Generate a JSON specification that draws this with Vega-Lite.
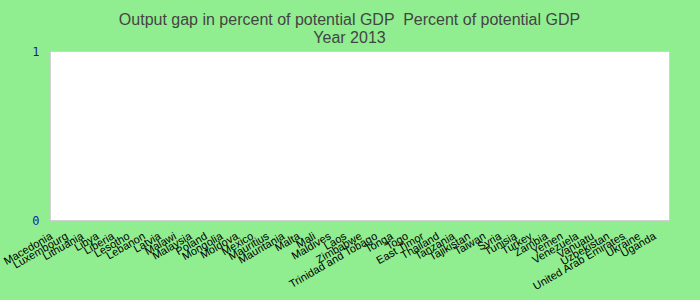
{
  "$schema": "https://vega.github.io/schema/vega-lite/v6.json",
  "autosize": "none",
  "width": 619,
  "height": 169,
  "padding": {"left": 50, "top": 51, "right": 31, "bottom": 80},
  "background": "#90EE90",
  "title": {
    "text": "Output gap in percent of potential GDP \u00a0Percent of potential GDP",
    "subtitle": "Year 2013",
    "font": "Liberation Sans",
    "fontSize": 16,
    "fontWeight": "normal",
    "color": "#444444",
    "subtitleFont": "Liberation Sans",
    "subtitleFontSize": 16,
    "subtitleColor": "#444444",
    "subtitlePadding": 2,
    "anchor": "middle",
    "dx": -10,
    "offset": -1
  },
  "data": {
    "values": [
      {"country": "Macedonia", "value": 0},
      {"country": "Luxembourg", "value": 0},
      {"country": "Lithuania", "value": 0},
      {"country": "Libya", "value": 0},
      {"country": "Liberia", "value": 0},
      {"country": "Lesotho", "value": 0},
      {"country": "Lebanon", "value": 0},
      {"country": "Latvia", "value": 0},
      {"country": "Malawi", "value": 0},
      {"country": "Malaysia", "value": 0},
      {"country": "Poland", "value": 0},
      {"country": "Mongolia", "value": 0},
      {"country": "Moldova", "value": 0},
      {"country": "Mexico", "value": 0},
      {"country": "Mauritius", "value": 0},
      {"country": "Mauritania", "value": 0},
      {"country": "Malta", "value": 0},
      {"country": "Mali", "value": 0},
      {"country": "Maldives", "value": 0},
      {"country": "Laos", "value": 0},
      {"country": "Zimbabwe", "value": 0},
      {"country": "Trinidad and Tobago", "value": 0},
      {"country": "Tonga", "value": 0},
      {"country": "Togo", "value": 0},
      {"country": "East Timor", "value": 0},
      {"country": "Thailand", "value": 0},
      {"country": "Tanzania", "value": 0},
      {"country": "Tajikistan", "value": 0},
      {"country": "Taiwan", "value": 0},
      {"country": "Syria", "value": 0},
      {"country": "Tunisia", "value": 0},
      {"country": "Turkey", "value": 0},
      {"country": "Zambia", "value": 0},
      {"country": "Yemen", "value": 0},
      {"country": "Venezuela", "value": 0},
      {"country": "Vanuatu", "value": 0},
      {"country": "Uzbekistan", "value": 0},
      {"country": "United Arab Emirates", "value": 0},
      {"country": "Ukraine", "value": 0},
      {"country": "Uganda", "value": 0}
    ]
  },
  "mark": {"type": "bar", "color": "#4472c4"},
  "encoding": {
    "x": {
      "field": "country",
      "type": "nominal",
      "sort": null,
      "title": null,
      "axis": {
        "labelAngle": -30,
        "labelAlign": "right",
        "labelBaseline": "top",
        "labelFont": "Liberation Sans",
        "labelFontSize": 11,
        "labelColor": "#000000",
        "labelPadding": 10,
        "labelOffset": -9,
        "ticks": false,
        "domain": false,
        "labelOverlap": false
      }
    },
    "y": {
      "field": "value",
      "type": "quantitative",
      "title": null,
      "scale": {"domain": [0, 1]},
      "axis": {
        "values": [0, 1],
        "format": "d",
        "labelFont": "DejaVu Sans Mono",
        "labelFontSize": 12,
        "labelColor": "#1a1aa8",
        "labelPadding": 11,
        "ticks": false,
        "domain": false,
        "grid": false
      }
    }
  },
  "config": {
    "view": {"fill": "#ffffff", "stroke": "#d0d0d0", "strokeWidth": 1}
  }
}
